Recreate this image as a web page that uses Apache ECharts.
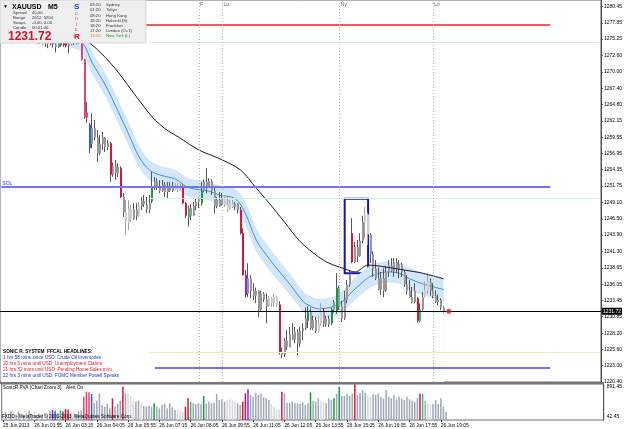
<!DOCTYPE html>
<html>
<head>
<meta charset="utf-8">
<script src="https://cdn.jsdelivr.net/npm/echarts@6/dist/echarts.min.js"></script>
<style>
  html, body { margin: 0; padding: 0; background: #fff; }
  #chart { width: 625px; height: 429px; }
</style>
</head>
<body>
<div id="chart"></div>
<script>
// bottom time labels, one every 12 bars
const timeLabels = ["25 Jun 2013", "26 Jun 01:55", "26 Jun 03:15", "26 Jun 04:05", "26 Jun 05:55",
  "26 Jun 07:15", "26 Jun 08:05", "26 Jun 09:55", "26 Jun 11:05", "26 Jun 12:05", "26 Jun 13:55",
  "26 Jun 15:05", "26 Jun 16:05", "26 Jun 17:55", "26 Jun 19:05"];
const priceTicks = [1220.40, 1223.00, 1225.60, 1228.20, 1230.85, 1233.45, 1236.05, 1238.65, 1241.30,
  1243.90, 1246.50, 1249.10, 1251.75, 1254.35, 1256.95, 1259.55, 1262.15, 1264.80, 1267.40, 1270.00,
  1272.60, 1275.25, 1277.85, 1280.45];
const volTicks = [891.45, 42.45];

// M5 bars
const opens = [1277.2,1277.6,1277.0,1277.4,1276.8,1276.2,1276.6,1276.0,1275.4,1275.9,
  1276.3,1275.8,1275.2,1275.6,1275.1,1274.8,1275.2,1274.7,1275.0,1274.5,
  1274.9,1274.4,1274.0,1274.8,1274.3,1274.7,1274.2,1274.5,1274.8,1274.6,
  1275.0,1274.8,1272.0,1262.7,1261.5,1258.5,1261.0,1259.5,1257.0,1258.5,
  1259.5,1258.0,1258.6,1253.6,1255.0,1253.8,1254.6,1250.0,1247.5,1246.0,
  1248.0,1246.5,1248.0,1247.0,1248.5,1249.4,1248.8,1248.0,1249.3,1251.6,
  1252.5,1251.8,1251.0,1252.0,1250.8,1251.6,1251.0,1251.8,1251.2,1251.6,
  1251.5,1249.0,1246.8,1248.2,1247.0,1248.5,1249.2,1249.0,1251.0,1252.4,
  1251.5,1252.5,1251.0,1248.5,1249.5,1248.8,1249.8,1248.8,1248.0,1249.0,
  1248.4,1248.9,1247.9,1244.2,1237.5,1234.5,1237.0,1235.0,1234.2,1235.0,
  1232.0,1234.5,1233.6,1232.5,1233.8,1233.0,1234.0,1232.8,1225.2,1224.8,
  1227.0,1226.0,1228.0,1227.2,1228.4,1226.5,1228.5,1229.0,1230.2,1231.5,
  1229.0,1230.3,1228.5,1229.8,1231.8,1229.6,1230.5,1229.8,1232.0,1231.8,
  1235.5,1232.5,1230.5,1233.5,1236.0,1244.2,1239.6,1242.0,1240.5,1243.0,
  1246.0,1247.2,1244.0,1240.8,1238.5,1237.0,1235.2,1237.0,1235.0,1238.0,
  1239.0,1238.2,1239.5,1238.5,1239.2,1238.0,1236.0,1235.0,1234.0,1233.2,
  1233.8,1230.2,1232.0,1234.0,1235.0,1236.3,1235.0,1234.2,1233.2,1233.5,1232.3];
const closes = [1277.6,1277.0,1277.4,1276.8,1276.2,1276.6,1276.0,1275.4,1275.9,1276.3,
  1275.8,1275.2,1275.6,1275.1,1274.8,1275.2,1274.7,1275.0,1274.5,1274.9,
  1274.4,1274.0,1274.8,1274.3,1274.7,1274.2,1274.5,1274.8,1274.6,1275.0,
  1274.8,1272.0,1262.7,1263.5,1257.8,1261.0,1259.5,1257.0,1258.5,1259.5,
  1258.0,1258.6,1253.6,1255.0,1253.8,1254.8,1250.0,1247.5,1246.0,1248.0,
  1246.5,1248.0,1247.0,1248.5,1249.4,1248.8,1248.0,1249.0,1251.6,1252.5,
  1251.8,1251.0,1252.0,1250.8,1251.6,1251.0,1251.8,1251.2,1251.6,1251.4,
  1249.0,1247.0,1248.2,1247.0,1248.5,1249.2,1249.6,1251.0,1252.4,1251.5,
  1252.5,1251.0,1248.5,1249.5,1248.5,1249.8,1248.8,1248.0,1249.0,1248.4,
  1248.9,1248.0,1244.2,1237.5,1234.3,1237.0,1235.0,1234.2,1235.0,1232.0,
  1234.5,1233.6,1232.5,1233.8,1233.0,1234.0,1232.8,1225.2,1224.8,1227.0,
  1226.0,1228.0,1227.2,1228.4,1226.5,1228.5,1229.0,1230.5,1231.5,1229.0,
  1230.3,1228.5,1229.8,1231.8,1229.6,1230.5,1229.6,1232.0,1233.2,1235.5,
  1232.5,1230.5,1233.5,1236.0,1237.5,1239.6,1242.0,1240.5,1243.0,1246.0,
  1247.2,1244.0,1240.8,1238.5,1237.0,1235.2,1237.0,1235.0,1238.0,1239.0,
  1238.2,1239.5,1238.5,1239.2,1238.0,1236.0,1235.0,1234.0,1233.2,1235.0,
  1230.2,1232.0,1234.0,1235.0,1236.3,1235.0,1234.2,1233.2,1233.5,1232.3,1231.72];
const lows = [1276.8,1276.6,1276.7,1276.4,1275.8,1275.9,1275.6,1275.0,1275.1,1275.6,
  1275.4,1274.9,1274.9,1274.7,1274.4,1274.5,1274.2,1274.0,1273.8,1274.2,
  1273.9,1273.1,1273.8,1274.0,1274.0,1273.9,1273.0,1274.2,1274.3,1274.4,
  1274.5,1271.8,1262.5,1261.8,1257.0,1257.8,1259.1,1255.6,1256.7,1257.5,
  1257.2,1257.5,1252.4,1253.2,1252.7,1253.2,1249.8,1246.8,1243.9,1244.7,
  1246.0,1246.3,1246.3,1246.8,1247.9,1248.4,1247.4,1247.4,1249.0,1251.1,
  1251.1,1250.6,1250.8,1250.0,1249.8,1250.8,1250.8,1251.1,1250.8,1251.1,
  1248.8,1246.6,1245.3,1246.3,1247.0,1247.9,1248.2,1248.6,1250.8,1250.6,
  1251.5,1250.3,1247.4,1248.2,1248.4,1248.6,1248.4,1247.6,1247.9,1248.2,
  1247.9,1247.4,1244.0,1237.4,1233.9,1234.0,1233.8,1233.5,1233.0,1230.8,
  1231.8,1233.2,1229.8,1232.4,1232.4,1232.4,1232.4,1224.8,1224.2,1224.4,
  1225.5,1225.9,1227.1,1226.6,1224.7,1226.0,1227.1,1228.7,1229.0,1228.7,
  1228.7,1228.2,1228.3,1229.4,1229.2,1229.2,1229.2,1229.5,1231.5,1231.3,
  1231.9,1230.0,1230.3,1233.0,1235.6,1239.4,1239.4,1239.6,1240.4,1242.6,
  1243.4,1242.3,1239.4,1237.2,1236.7,1235.1,1234.3,1234.0,1234.8,1237.2,
  1238.0,1237.2,1237.8,1237.0,1237.2,1235.6,1234.4,1233.9,1233.0,1233.0,
  1229.9,1229.9,1231.8,1233.9,1234.5,1234.2,1233.8,1233.0,1232.7,1231.9,1231.5];
const highs = [1278.0,1277.9,1277.8,1277.6,1277.1,1276.9,1276.8,1276.3,1276.2,1276.7,
  1276.5,1276.0,1275.9,1275.8,1275.4,1275.5,1275.6,1275.4,1275.3,1275.2,
  1275.1,1274.8,1275.0,1275.2,1275.0,1275.0,1274.8,1275.2,1275.3,1275.4,
  1275.6,1275.3,1272.1,1265.2,1261.8,1263.4,1262.3,1260.7,1259.9,1260.4,
  1259.6,1259.1,1258.8,1255.5,1255.9,1255.4,1254.9,1250.6,1249.5,1249.5,
  1248.7,1249.0,1249.0,1249.2,1250.0,1250.3,1250.0,1250.3,1254.0,1253.2,
  1253.0,1252.7,1252.7,1252.4,1252.4,1252.4,1252.4,1252.2,1252.2,1252.2,
  1252.0,1249.2,1248.6,1248.8,1249.2,1249.7,1249.9,1252.4,1252.8,1254.6,
  1253.0,1252.8,1251.6,1250.0,1250.8,1250.6,1250.0,1250.0,1249.5,1249.5,
  1249.2,1249.0,1248.4,1245.0,1238.3,1239.4,1237.5,1236.2,1235.5,1235.1,
  1235.0,1234.8,1234.6,1234.2,1234.0,1234.6,1234.2,1233.3,1225.9,1227.4,
  1228.7,1229.2,1229.8,1229.2,1228.8,1229.2,1229.8,1232.3,1232.5,1232.3,
  1231.0,1230.8,1231.0,1233.0,1232.2,1231.0,1231.0,1232.3,1233.5,1237.8,
  1235.8,1233.4,1235.0,1236.7,1238.3,1246.6,1242.8,1243.1,1244.2,1247.0,
  1248.4,1247.5,1244.2,1241.3,1239.9,1238.7,1238.0,1238.6,1239.0,1239.9,
  1240.2,1240.2,1240.2,1239.9,1239.5,1238.3,1237.5,1236.7,1235.6,1236.2,
  1234.0,1233.0,1234.8,1236.5,1237.7,1237.0,1236.2,1235.1,1234.4,1233.8,1232.5];

// PVA class of each bar: g normal, l low, r red climax, k pink, G green, t teal, b blue, v violet
const pvaClass = "lglglgglglgglgl" + "glgg" + "vbgtrrrglggg" + "kkkb" + "ggggggg" + "r" + "ggg" + "r" +
  "glllgglgggg" + "G" + "gggggggg" + "lll" + "rrt" + "gggg" + "G" + "gggggggg" + "llll" + "gg" +
  "rrv" + "gggggggg" + "llll" + "r" + "gggggggggg" + "G" + "ggg" + "ll" + "ggg" + "G" + "g" + "G" +
  "ggggg" + "r" + "gggg" + "ll" + "gggggggggggggggggg" + "rt" + "g" + "ll" + "gggggg";
const volumes = [180,220,150,260,200,170,240,190,150,210,260,180,230,160,200,
  190,230,170,250,280,260,210,270,240,300,290,200,230,180,250,270,
  593,710,695,655,435,498,670,396,357,420,317,553,357,420,498,828,
  670,670,593,498,475,498,451,372,357,372,341,435,
  357,317,396,420,317,435,341,278,294,262,239,357,553,475,
  435,420,435,420,608,435,475,435,451,655,514,530,475,
  498,530,498,475,435,396,475,670,765,
  632,593,687,632,670,577,553,514,420,357,278,294,710,
  670,451,451,475,435,435,420,451,396,435,695,498,475,553,498,467,
  435,553,514,553,655,828,608,608,670,608,670,880,632,687,750,687,632,593,
  655,632,670,593,553,750,593,553,632,530,593,553,514,593,530,498,475,553,
  670,655,498,435,420,420,514,420,553,357,239];

// slow moving average (black)
const maBars = [0,10,20,28,34,40,45,52,58,63,68,76,84,92,98,103,109,115,122,126,132,136,141,146,155,162,170];
const maValues = [1278.6,1277.9,1276.8,1275.8,1274.6,1272.3,1269.9,1266.0,1262.8,1260.9,1259.6,1257.5,
  1256.1,1254.3,1251.4,1249.0,1245.9,1242.8,1240.4,1239.4,1238.5,1238.0,1239.1,1238.9,1238.3,1237.8,1236.9];

// dragon band (blue)
const dragonBars = [0,15,25,31,35,40,45,49,53,57,61,66,68,72,80,84,90,94,98,103,
  107,111,116,119,122,127,131,135,139,142,148,153,157,162,170];
const dragonMid = [1277.0,1276.3,1275.5,1274.7,1271.4,1267.9,1263.6,1260.0,1256.4,1254.3,
  1253.5,1253.0,1252.6,1251.5,1250.9,1250.3,1249.7,1247.2,1243.1,1240.1,
  1238.0,1236.0,1233.3,1232.5,1232.1,1232.4,1233.2,1234.9,1236.4,1237.3,
  1238.0,1237.8,1236.9,1236.1,1235.2];
const dragonHigh = [1278.4,1277.7,1276.9,1276.2,1273.0,1269.6,1265.3,1261.7,1258.0,1255.8,
  1254.9,1254.4,1254.0,1252.9,1252.3,1251.7,1251.2,1248.9,1244.8,1241.8,
  1239.6,1237.6,1234.8,1234.0,1233.6,1233.9,1234.8,1236.6,1238.1,1239.0,
  1239.6,1239.4,1238.6,1237.8,1237.0];
const dragonLow = [1275.6,1274.9,1274.1,1273.2,1269.8,1266.2,1261.9,1258.3,1254.8,1252.8,
  1252.1,1251.6,1251.2,1250.1,1249.5,1248.9,1248.2,1245.5,1241.4,1238.4,
  1236.4,1234.4,1231.8,1231.0,1230.6,1230.9,1231.6,1233.2,1234.7,1235.6,
  1236.4,1236.2,1235.2,1234.4,1233.4];

// levels and marks
const bidPrice = 1231.72;
const redLevel = 1277.5;
const solLevel = 1251.6;
const floorLevel = 1222.6;
const paleLevels = [1274.8, 1249.8, 1225.2];
const sessionBars = [76, 85, 130, 166];
const sessionNames = ["F", "Lo", "Ny", "Lo"];
const boxBars = [132, 141];
const boxPrices = [1249.7, 1237.8];
const headlines = [
  ["SONIC R. SYSTEM  FFCAL HEADLINES:", "#000000"],
  ["1 hrs 58 mins since USD: Crude Oil Inventories", "#2233dd"],
  ["20 hrs 3 mins until USD: Unemployment Claims", "#e0142c"],
  ["21 hrs 32 mins until USD: Pending Home Sales m/m", "#e0142c"],
  ["22 hrs 3 mins until USD: FOMC Member Powell Speaks", "#2233dd"]
];
const sessions = [
  ["03:20", "Sydney"], ["01:20", "Tokyo"], ["08:20", "Hong Kong"], ["18:20", "Helsinki (S)"],
  ["18:20", "Frankfurt"], ["17:20", "London (O+1)"], ["13:20", "New York (L)"]
];
const symbolInfo = [["Spread", "40.00"], ["Range", "2612, 5204"], ["Swaps", "-0.00, 0.00"], ["Candle", "00:01:40"]];

const FONT = "Liberation Sans";
const CLS = {
  g: { wick: "#555555", body: "#989898", vol: "#9fa8b7" },
  l: { wick: "#a0a0a0", body: "#cdcdcd", vol: "#d6dae0" },
  r: { wick: "#555555", body: "#dc143c", vol: "#dc143c" },
  k: { wick: "#555555", body: "#e2466e", vol: "#e2466e" },
  G: { wick: "#555555", body: "#119a40", vol: "#119a40" },
  t: { wick: "#555555", body: "#2ebd7a", vol: "#2ebd7a" },
  b: { wick: "#555555", body: "#2f5fe8", vol: "#2f5fe8" },
  v: { wick: "#555555", body: "#9a22e6", vol: "#9a22e6" }
};

const nCats = 231;
const cats = Array.from({ length: nCats }, (_, i) => String(i));
const candleData = opens.map((o, i) => [i, o, closes[i], lows[i], highs[i]]);
const pairs = (xs, ys) => xs.map((x, k) => [x, ys[k]]);

function txt(x, y, text, size, color, bold, align) {
  return {
    type: "text", x: x, y: y, z: 101,
    style: {
      text: text, fill: color, fontSize: size, fontFamily: FONT,
      fontWeight: bold ? "bold" : "normal", align: align || "left", verticalAlign: "middle"
    }
  };
}

const graphics = [
  { type: "rect", z: 100, shape: { x: 0, y: 382, width: 604, height: 2 }, style: { fill: "#777777" } },
  { type: "rect", z: 100, shape: { x: 0, y: 0, width: 146, height: 43 }, style: { fill: "#efefef", stroke: "#d4d4d4", lineWidth: 1 } },
  txt(3, 7, "▼", 5, "#000"),
  txt(12, 7, "XAUUSD", 7, "#000", true),
  txt(48, 7, "M5", 7, "#000", true),
  txt(8, 37, "1231.72", 12, "#e0102a", true),
  txt(74, 7, "S", 8, "#1a3cf0", true),
  txt(75, 14, "o", 5, "#a070d8"),
  txt(75, 19, "n", 5, "#c05ab0"),
  txt(76, 24.5, "i", 5, "#d04890"),
  txt(75, 30, "c", 5, "#dc3460"),
  txt(74, 37, "R", 8, "#e0102a", true),
  txt(3, 388, "SonicR PVA (Chart Zoom 3)", 4.7, "#000"),
  txt(66, 388, "Alert On", 4.7, "#000"),
  txt(2, 417, "FXDD - MetaTrader \u00a9 2001-2013, MetaQuotes Software Corp.", 4.7, "#000")
];
symbolInfo.forEach((r, k) => {
  graphics.push(txt(13, 13 + k * 5, r[0], 4.2, "#333"));
  graphics.push(txt(32, 13 + k * 5, r[1], 4.2, "#333"));
});
sessions.forEach((s, k) => {
  const last = k === sessions.length - 1;
  graphics.push(txt(90, 5 + k * 5.2, s[0], 4.2, last ? "#e07a20" : "#333"));
  graphics.push(txt(106, 5 + k * 5.2, s[1], 4.2, last ? "#10a010" : "#333"));
});
headlines.forEach((h, k) => {
  graphics.push(txt(3, 352 + k * 6, h[0], 4.7, h[1], k === 0));
});

const lineItem = (x0, x1, y, color, width, extra) => [
  Object.assign({ coord: [x0, y], lineStyle: { color: color, width: width } }, extra || {}),
  { coord: [x1, y] }
];

const markLines = [
  lineItem(0, 211, redLevel, "#e8281e", 1.5),
  lineItem(0, 211, solLevel, "#7272ff", 2, {
    label: { show: true, position: "insideStartTop", formatter: "SOL", color: "#3232ff", fontSize: 5, fontFamily: FONT, distance: 1 }
  }),
  lineItem(59, 211, floorLevel, "#7272ff", 2),
  lineItem(57, 230, paleLevels[0], "#d2f2d2", 1),
  lineItem(57, 230, paleLevels[1], "#d2f2d2", 1),
  lineItem(57, 230, paleLevels[2], "#eeeac4", 1),
  {
    yAxis: bidPrice, lineStyle: { color: "#000", width: 1 },
    label: {
      show: true, position: "end", formatter: bidPrice.toFixed(2), color: "#fff", backgroundColor: "#000",
      fontSize: 5, fontFamily: FONT, padding: [1, 1], distance: 1
    }
  }
].concat(sessionBars.map(b => ({ xAxis: b, lineStyle: { color: "#b4b4b4", width: 1, type: [1, 2] } })));

const option = {
  animation: false,
  backgroundColor: "#ffffff",
  grid: [
    { left: 0, right: 21, top: 0, height: 382, show: true, borderColor: "#6a6a6a", borderWidth: 1 },
    { left: 0, right: 21, top: 384, height: 36, show: true, borderColor: "#6a6a6a", borderWidth: 1 }
  ],
  xAxis: [
    { gridIndex: 0, type: "category", data: cats, boundaryGap: true, show: false },
    {
      gridIndex: 1, type: "category", data: cats, boundaryGap: true,
      axisLine: { show: false },
      axisTick: { show: true, alignWithLabel: true, length: 2, lineStyle: { color: "#404040" },
        interval: i => i % 12 === 0 && i / 12 < timeLabels.length },
      axisLabel: {
        interval: i => i % 12 === 0 && i / 12 < timeLabels.length,
        formatter: (v, i) => timeLabels[i / 12] || "",
        align: "left", fontSize: 4.8, fontFamily: FONT, color: "#000", margin: 3
      }
    }
  ],
  yAxis: [
    {
      gridIndex: 0, type: "value", position: "right", min: 1220.40, max: 1281.5,
      splitLine: { show: false },
      axisLine: { show: true, lineStyle: { color: "#505050" } },
      axisTick: { show: true, length: 2, customValues: priceTicks, lineStyle: { color: "#505050" } },
      axisLabel: { customValues: priceTicks, formatter: v => v.toFixed(2), fontSize: 5, fontFamily: FONT, color: "#000", margin: 3 }
    },
    {
      gridIndex: 1, type: "value", position: "right", min: 42.45, max: 891.45,
      splitLine: { show: false },
      axisLine: { show: true, lineStyle: { color: "#505050" } },
      axisTick: { show: false },
      axisLabel: {
        customValues: volTicks,
        formatter: v => (v > 400 ? "{t|" : "{b|") + v.toFixed(2) + "}",
        rich: {
          t: { fontSize: 5, fontFamily: FONT, color: "#000", padding: [6, 0, 0, 0] },
          b: { fontSize: 5, fontFamily: FONT, color: "#000", padding: [0, 0, 6, 0] }
        },
        margin: 3
      }
    }
  ],
  graphic: graphics,
  series: [
    {
      name: "dragonHigh", type: "line", xAxisIndex: 0, yAxisIndex: 0, z: 1,
      data: pairs(dragonBars, dragonHigh), smooth: 0.35, symbol: "none",
      lineStyle: { color: "#c2dcf5", width: 0.6 },
      areaStyle: { color: "#d2e7fb", opacity: 1, origin: "start" }
    },
    {
      name: "dragonLow", type: "line", xAxisIndex: 0, yAxisIndex: 0, z: 1,
      data: pairs(dragonBars, dragonLow), smooth: 0.35, symbol: "none",
      lineStyle: { color: "#c2dcf5", width: 0.6 },
      areaStyle: { color: "#ffffff", opacity: 1, origin: "start" }
    },
    {
      name: "dragonMid", type: "line", xAxisIndex: 0, yAxisIndex: 0, z: 2,
      data: pairs(dragonBars, dragonMid), smooth: 0.35, symbol: "none",
      lineStyle: { color: "#3c8ee8", width: 1 }
    },
    {
      name: "XAUUSD", type: "custom", xAxisIndex: 0, yAxisIndex: 0, z: 3,
      encode: { x: 0, y: [1, 2, 3, 4] },
      data: candleData,
      renderItem: function (params, api) {
        const i = api.value(0);
        const c = CLS[pvaClass[params.dataIndex]] || CLS.g;
        const hi = api.coord([i, api.value(4)]);
        const lo = api.coord([i, api.value(3)]);
        const yo = api.coord([i, api.value(1)])[1];
        const yc = api.coord([i, api.value(2)])[1];
        const x = Math.round(hi[0]) - 0.5;
        return {
          type: "group",
          children: [
            { type: "line", shape: { x1: x, y1: hi[1], x2: x, y2: lo[1] }, style: { stroke: c.wick, lineWidth: 1 } },
            { type: "rect", shape: { x: x - 0.5, y: Math.min(yo, yc), width: 2, height: Math.max(1, Math.abs(yo - yc)) }, style: { fill: c.body } }
          ]
        };
      }
    },
    {
      name: "MA", type: "line", xAxisIndex: 0, yAxisIndex: 0, z: 4,
      data: pairs(maBars, maValues), smooth: 0.3, symbol: "none",
      lineStyle: { color: "#1a1a1a", width: 1 },
      markLine: {
        silent: true, symbol: ["none", "none"],
        lineStyle: { type: "solid", width: 1 },
        label: { show: false },
        data: markLines
      },
      markArea: {
        silent: true,
        itemStyle: { color: "rgba(0,0,0,0)", borderColor: "#1414b4", borderWidth: 2 },
        data: [[{ coord: [boxBars[0], boxPrices[0]] }, { coord: [boxBars[1], boxPrices[1]] }]]
      }
    },
    {
      name: "sessions", type: "scatter", xAxisIndex: 0, yAxisIndex: 0, z: 5,
      data: sessionBars.map((b, k) => [b, 1280.8, sessionNames[k]]),
      symbolSize: 0.1, itemStyle: { color: "rgba(0,0,0,0)" },
      label: { show: true, position: "right", distance: 1, formatter: p => p.data[2], fontSize: 5, fontFamily: FONT, color: "#333" }
    },
    {
      name: "bid", type: "scatter", xAxisIndex: 0, yAxisIndex: 0, z: 5,
      data: [[172, bidPrice]], symbolSize: 5, itemStyle: { color: "#e8141c" }
    },
    {
      name: "PVA", type: "bar", xAxisIndex: 1, yAxisIndex: 1, barWidth: 1.5,
      data: volumes.map((v, i) => ({ value: v, itemStyle: { color: (CLS[pvaClass[i]] || CLS.g).vol } }))
    }
  ]
};

const chart = echarts.init(document.getElementById("chart"));
chart.setOption(option);
window.addEventListener("resize", () => chart.resize());
</script>
</body>
</html>
